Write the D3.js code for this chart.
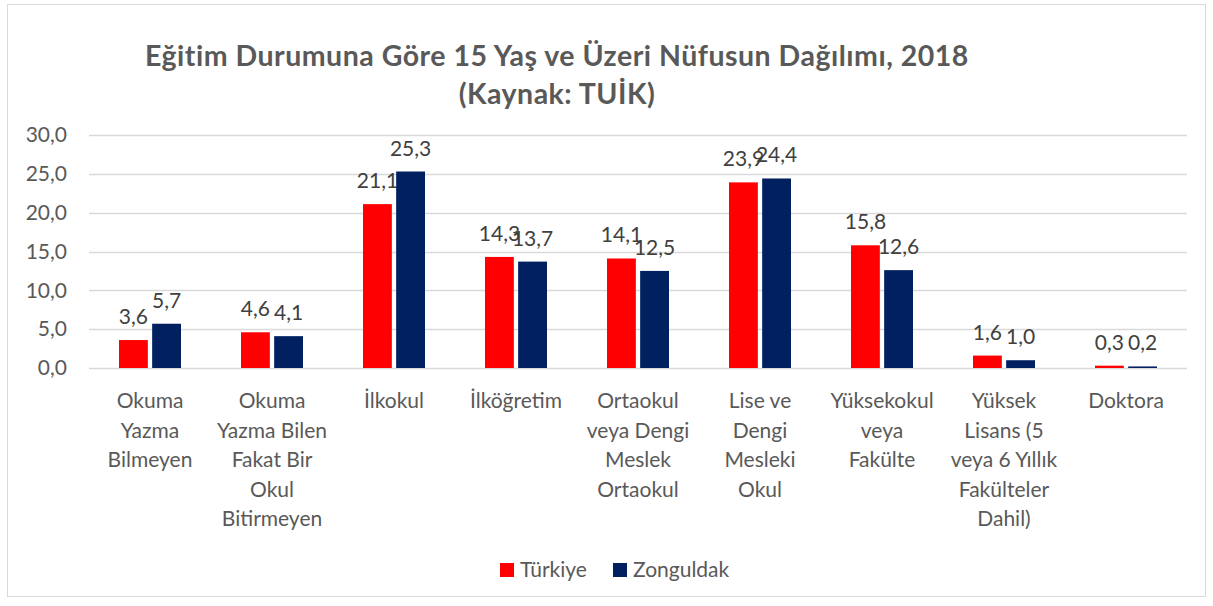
<!DOCTYPE html>
<html>
<head>
<meta charset="utf-8">
<script src="https://cdn.jsdelivr.net/npm/d3@7"></script>
<style>
  body { margin: 0; background: #fff; }
  text { font-family: Lato, "Open Sans", sans-serif; }
</style>
</head>
<body>
<div id="chart"></div>
<script>
var w = 1213;
var h = 606;

// categories (label lines) and series values
var categories = [
  ["Okuma", "Yazma", "Bilmeyen"],
  ["Okuma", "Yazma Bilen", "Fakat Bir", "Okul", "Bitirmeyen"],
  ["İlkokul"],
  ["İlköğretim"],
  ["Ortaokul", "veya Dengi", "Meslek", "Ortaokul"],
  ["Lise ve", "Dengi", "Mesleki", "Okul"],
  ["Yüksekokul", "veya", "Fakülte"],
  ["Yüksek", "Lisans (5", "veya 6 Yıllık", "Fakülteler", "Dahil)"],
  ["Doktora"]
];
var seriesNames = ["Türkiye", "Zonguldak"];
var turkiye = [3.6, 4.6, 21.1, 14.3, 14.1, 23.9, 15.8, 1.6, 0.3];
var zonguldak = [5.7, 4.1, 25.3, 13.7, 12.5, 24.4, 12.6, 1.0, 0.2];
var yTicks = [0, 5, 10, 15, 20, 25, 30];
var colors = ["#FF0000", "#002060"];

var fmt = function(v) { return d3.format(".1f")(v).replace(".", ","); };
var fs = 21;

var svg = d3.select("#chart")
  .append("svg")
  .attr("width", w)
  .attr("height", h);

// chart frame
svg.append("rect")
  .attr("x", 7.5).attr("y", 4.5)
  .attr("width", 1198).attr("height", 592)
  .attr("fill", "#fff")
  .attr("stroke", "#d9d9d9");

var plotLeft = 89, plotRight = 1187, plotTop = 135, plotBottom = 368;

var x = d3.scaleBand()
  .domain(d3.range(categories.length))
  .range([plotLeft, plotRight]);

var xInner = d3.scaleBand()
  .domain([0, 1])
  .range([0, 62])
  .paddingInner(0.13);

var y = d3.scaleLinear()
  .domain([0, 30])
  .range([plotBottom, plotTop]);

// gridlines
svg.append("g")
  .selectAll("line")
  .data(yTicks)
  .enter()
  .append("line")
  .attr("x1", plotLeft).attr("x2", plotRight)
  .attr("y1", function(d) { return Math.round(y(d)) + 0.5; })
  .attr("y2", function(d) { return Math.round(y(d)) + 0.5; })
  .attr("stroke", "#d9d9d9")
  .attr("stroke-width", 1.5);

// y axis labels
var yAxis = d3.axisLeft(y)
  .tickValues(yTicks)
  .tickSize(0)
  .tickPadding(0)
  .tickFormat(fmt);

svg.append("g")
  .attr("transform", "translate(67,0)")
  .call(yAxis)
  .call(function(g) { g.select(".domain").remove(); })
  .selectAll("text")
  .attr("font-family", "Lato, 'Open Sans', sans-serif")
  .attr("font-size", fs)
  .attr("fill", "#595959");

// bars
var series = [turkiye, zonguldak];
series.forEach(function(vals, s) {
  var g = svg.append("g");
  g.selectAll("rect")
    .data(vals)
    .enter()
    .append("rect")
    .attr("x", function(d, i) { return x(i) + (x.bandwidth() - 62) / 2 + xInner(s); })
    .attr("y", function(d) { return y(d); })
    .attr("width", xInner.bandwidth())
    .attr("height", function(d) { return plotBottom - y(d); })
    .attr("fill", colors[s]);

  g.selectAll("text")
    .data(vals)
    .enter()
    .append("text")
    .attr("x", function(d, i) { return x(i) + (x.bandwidth() - 62) / 2 + xInner(s) + xInner.bandwidth() / 2; })
    .attr("y", function(d) { return y(d) - 16; })
    .attr("text-anchor", "middle")
    .attr("font-size", fs)
    .attr("fill", "#404040")
    .text(function(d) { return fmt(d); });
});

// category labels
var catG = svg.append("g")
  .selectAll("text")
  .data(categories)
  .enter()
  .append("text")
  .attr("x", function(d, i) { return x(i) + x.bandwidth() / 2; })
  .attr("y", 408)
  .attr("text-anchor", "middle")
  .attr("font-size", fs)
  .attr("fill", "#595959");

catG.selectAll("tspan")
  .data(function(d) { return d; })
  .enter()
  .append("tspan")
  .attr("x", function() { return d3.select(this.parentNode).attr("x"); })
  .attr("dy", function(d, i) { return i === 0 ? 0 : 29.5; })
  .text(function(d) { return d; });

// title
var titleLines = ["Eğitim Durumuna Göre 15 Yaş ve Üzeri Nüfusun Dağılımı, 2018", "(Kaynak: TUİK)"];
svg.append("g")
  .selectAll("text")
  .data(titleLines)
  .enter()
  .append("text")
  .attr("x", 557)
  .attr("y", function(d, i) { return 66 + i * 38; })
  .attr("text-anchor", "middle")
  .attr("font-size", 28.5)
  .attr("font-weight", "bold")
  .attr("letter-spacing", 0.5)
  .attr("fill", "#595959")
  .text(function(d) { return d; });

// legend
var legendX = [500, 613];
var legend = svg.append("g")
  .selectAll("g")
  .data(seriesNames)
  .enter()
  .append("g")
  .attr("transform", function(d, i) { return "translate(" + legendX[i] + ",563)"; });

legend.append("rect")
  .attr("width", 14).attr("height", 14)
  .attr("fill", function(d, i) { return colors[i]; });

legend.append("text")
  .attr("x", 20)
  .attr("y", 14)
  .attr("font-size", fs)
  .attr("fill", "#595959")
  .text(function(d) { return d; });
</script>
</body>
</html>
